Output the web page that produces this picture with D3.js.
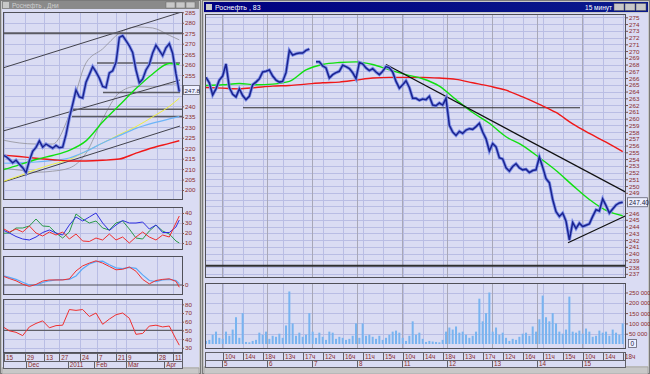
<!DOCTYPE html>
<html><head><meta charset="utf-8">
<script src="https://cdn.jsdelivr.net/npm/d3@7"></script>
<style>body{margin:0;background:#c0c0c0;}svg{display:block;font-family:"Liberation Sans",Arial,sans-serif;}</style>
</head><body><svg id="c" width="650" height="374"></svg>
<script>
// ---------- RIGHT WINDOW (15-minute) DATA ----------
const priceR = [266.1,265.3,263.5,264.4,265.7,266.3,268.1,264.6,263.6,263.2,264.4,263.4,262.8,263.3,265.0,265.4,265.9,266.9,267.0,267.2,
266.3,265.7,265.4,265.5,266.8,270.1,269.4,269.6,269.7,269.7,270.1,270.3,null,268.4,268.4,267.8,267.5,266.0,266.5,266.8,
267.0,267.9,267.7,267.4,266.8,265.9,268.3,268.1,267.5,267.1,267.4,266.9,266.5,267.0,267.7,267.5,266.9,265.5,264.5,265.0,
265.6,264.6,263.0,263.0,262.7,262.9,262.8,263.3,262.0,261.9,262.3,262.0,263.0,259.0,258.0,257.5,258.1,257.8,258.3,258.5,
258.4,258.8,259.3,258.0,257.0,255.2,256.3,255.8,254.2,254.0,252.7,252.2,252.9,253.3,252.7,252.4,252.5,252.0,252.3,252.4,
254.3,252.8,251.1,250.5,248.0,246.2,245.5,246.0,244.8,242.0,244.6,243.7,244.5,244.0,244.2,244.4,245.5,246.5,246.3,248.1,
247.1,246.0,246.6,247.2,247.5,247.6];
const volumeR = [15,20,45,60,30,25,60,40,70,130,30,150,10,8,15,20,55,45,60,25,40,35,50,30,90,255,100,40,55,35,45,150,60,30,55,35,20,60,55,25,
35,30,20,25,40,100,30,100,40,45,35,25,40,20,30,45,60,65,55,30,15,40,110,45,55,25,10,15,12,10,8,20,60,80,70,85,55,60,45,30,
40,60,220,110,150,250,60,80,45,55,30,15,25,20,35,50,55,40,85,60,120,235,130,110,150,100,60,50,70,230,60,55,65,50,75,60,35,40,65,55,
60,40,70,55,45,100];
const maIdxR = [0,5,10,15,20,25,30,35,40,45,50,55,60,65,70,75,80,85,90,95,100,105,110,115,120,125];
const maGreenR = [264.9,265.0,265.2,265.0,265.1,265.5,267.2,268.0,268.3,268.4,268.0,267.2,266.5,265.9,264.8,262.8,260.9,259.3,257.3,256.0,254.2,252.3,250.1,248.0,246.4,245.6];
const maRedR = [264.6,264.5,264.4,264.6,264.8,264.9,265.1,265.3,265.4,265.7,266.0,266.1,266.1,266.1,266.0,265.8,265.3,264.8,264.2,263.2,262.1,260.9,259.2,257.8,256.5,255.1];
const trendR = [{i0:54,v0:268.0,i1:125.9,v1:249.1},{i0:108.6,v0:241.6,i1:125.9,v1:245.6}];
const levelR = [{i0:11.1,i1:112.2,v:261.6,w:1.2},{i0:-0.3,i1:125.7,v:238.2,w:2}];
const priceTicksR = d3.range(237,276,1);
const volTicks = [0,50,100,150,200,250];
const hourLabels = ["10ч","14ч","18ч","13ч","17ч","12ч","16ч","11ч","15ч","10ч","14ч","18ч","13ч","17ч","12ч","16ч","11ч","15ч","10ч","14ч","18ч"];
const hourIdx = hourLabels.map((d,k)=>5.1+6*k);
const dayLabels = ["5","6","7","8","11","12","13","14","15"];
const dayIdx = dayLabels.map((d,k)=>4.8+13.5*k);

// ---------- LEFT WINDOW (daily) DATA ----------
const priceL = [216.7,216.0,214.6,213.0,214.2,212.3,210.7,208.3,214.0,218.5,220.4,223.5,220.5,222.0,221.0,220.0,221.3,220.2,220.5,226.5,
234.5,241.0,247.8,244.5,244.0,251.5,255.2,259.0,256.5,253.5,249.5,249.0,256.0,257.0,261.0,273.0,273.8,271.5,269.0,265.8,
257.4,251.3,253.0,257.4,260.0,265.5,269.2,266.8,264.3,268.0,270.0,265.4,255.5,247.0];
const maIdxL = [0,5,10,15,20,25,30,35,40,45,50,53];
const maGreenL = [209.6,212.0,214.6,216.5,219.0,223.5,232.5,240.5,248.5,255.5,260.5,260.0];
const maRedL = [216.7,216.0,215.2,214.5,213.9,213.9,214.2,214.8,217.6,220.2,222.3,223.6];
const maBlueL = [212.8,213.0,213.4,214.2,215.3,218.5,222.5,226.0,229.5,232.0,234.0,235.1];
const maYellowL = [204.0,206.8,209.8,212.3,214.6,218.5,222.5,226.5,230.3,235.0,240.0,243.9];
const bbUpperL = [223.9,222.5,222.0,222.0,236.0,260.8,267.5,275.0,278.0,277.5,274.0,271.8];
const bbLowerL = [210.5,209.5,208.5,209.0,210.5,217.6,234.0,246.5,249.5,249.4,250.5,251.0];
const trendL = [{j0:0.1,v0:258.4,j1:53.8,v1:285.2},{j0:0.1,v0:228.2,j1:53.2,v1:252.6},{j0:0.1,v0:203.8,j1:53.2,v1:230.6}];
const levelL = [{j0:0.1,j1:53.8,v:275,w:2},{j0:28.3,j1:53.2,v:260.8,w:1.5},{j0:30.1,j1:53.2,v:246.6,w:1.5},{j0:20.8,j1:53.8,v:238.6,w:1.5},{j0:20.8,j1:53.8,v:235.1,w:1.5}];
const priceTicksL = d3.range(200,286,5);
const indIdx = [0,2,4,6,8,10,12,14,16,18,20,22,24,26,28,30,32,34,36,38,40,42,44,46,48,50,52,53];
const dmiBlue = [23,20,16.5,14,13,16,20.5,23,20,18,28,36,32,36,40,30,22.5,28,32.5,30,30,31,24,28,20.5,20.5,26,33];
const dmiGreen = [19.7,20,25,25,27,34,27,26.5,20,15,21,39,34,30,32,25,23,30,32,24,15,14,22,28,22,19,12,10];
const dmiRed = [24.7,21,24,21,27,20,17,21,18,21,14,19,12,11.5,15,13,19,13,16,10,16,21,16,13,18,16,30,37];
const macdRed = [3.2,2.3,1.5,0.3,-0.5,0.2,1.4,1.8,1.8,1.8,2.2,5.0,6.8,7.8,8.6,7.8,6.6,5.4,5.6,6.4,4.9,2.0,0.4,1.6,2.0,2.2,1.3,-0.8];
const macdBlue = [3.4,2.7,2.0,1.0,0.0,-0.1,0.9,1.5,1.8,1.9,2.0,3.2,5.8,7.5,8.3,8.5,7.2,6.1,5.8,6.3,5.9,3.6,1.6,1.2,1.8,2.0,1.6,0.5];
const rsi = [54.3,49.5,47.8,44,54,58,61,53,55.5,56,74,73,74,66,70,57,63,68,70,64,45.5,46.5,55,56,54,55,40,33];
const dmiTicks = [10,20,30,40];
const rsiTicks = [30,40,50,60,70,80];
const dateLabelsL = ["15","29","13","27","24","7","21","9","28","11"];
const dateIdxL = [0.4,6.7,12.4,17,23.2,28.3,34,37,46.3,51.1];
const monthLabelsL = ["Dec","2011","Feb","Mar","Apr"];
const monthIdxL = [7,19.5,27.5,37,48.5];
const lastLabelR = "247.40", lastLabelL = "247.8";

// ---------- DRAWING ----------
const svg = d3.select("#c");
const BG = "#dadcf3", GRID = "#b9bde4", LBL = "#8a2a2a", BORDER = "#505058";
svg.append("rect").attr("width",650).attr("height",374).attr("fill","#c0c0c0");

function win(x,y,w,h){
  svg.append("rect").attr("x",x+0.5).attr("y",y+0.5).attr("width",w-1).attr("height",h-1).attr("fill","#c8c8c8").attr("stroke","#7a7a7a");
}
win(0,0,201,374); win(202,0,448,374);
svg.append("rect").attr("x",2).attr("y",9).attr("width",197).attr("height",358).attr("fill",BG);
svg.append("rect").attr("x",204).attr("y",13).attr("width",444).attr("height",353).attr("fill",BG);
svg.append("rect").attr("x",2).attr("y",1).attr("width",197).attr("height",8).attr("fill","#8a8a8a");
svg.append("text").attr("x",12).attr("y",7.5).attr("font-size",6.5).attr("fill","#cfcfcf").text("Роснефть , Дни");
svg.append("rect").attr("x",3).attr("y",2).attr("width",6).attr("height",6).attr("fill","#c8c8c8");
[166,176,186].forEach(x=>svg.append("rect").attr("x",x).attr("y",2).attr("width",9).attr("height",6).attr("fill","#c8c8c8").attr("stroke","#6a6a6a").attr("stroke-width",0.5));
const tg = svg.append("defs").append("linearGradient").attr("id","tb");
tg.append("stop").attr("offset","0").attr("stop-color","#000080");
tg.append("stop").attr("offset","1").attr("stop-color","#0a1a8c");
svg.append("rect").attr("x",204).attr("y",2).attr("width",444).attr("height",10).attr("fill","url(#tb)");
svg.append("rect").attr("x",206).attr("y",4).attr("width",6).attr("height",6).attr("fill","#c8c8c8");
svg.append("text").attr("x",215).attr("y",10).attr("font-size",7).attr("fill","#fff").text("Роснефть , 83");
svg.append("text").attr("x",612).attr("y",10).attr("font-size",6.5).attr("fill","#fff").attr("text-anchor","end").text("15 минут");
[614,625,636].forEach(x=>svg.append("rect").attr("x",x).attr("y",3.5).attr("width",10).attr("height",7).attr("fill","#c8c8c8").attr("stroke","#505050").attr("stroke-width",0.5));

svg.append("rect").attr("x",2).attr("y",368).attr("width",197).attr("height",6).attr("fill","#c8c8c8").attr("stroke","#8a8a8a").attr("stroke-width",0.5);
svg.append("rect").attr("x",204).attr("y",367).attr("width",444).attr("height",7).attr("fill","#c8c8c8").attr("stroke","#8a8a8a").attr("stroke-width",0.5);

const defs = svg.append("defs");
function clip(id,x,y,w,h){defs.append("clipPath").attr("id",id).append("rect").attr("x",x).attr("y",y).attr("width",w).attr("height",h);return "url(#"+id+")";}

function hGrid(g,vals,sc,x0,x1,col){g.selectAll(null).data(vals).join("line").attr("x1",x0).attr("x2",x1).attr("y1",d=>Math.round(sc(d))+0.5).attr("y2",d=>Math.round(sc(d))+0.5).attr("stroke",col||GRID).attr("stroke-width",1);}
function vGrid(g,vals,sc,y0,y1,col){g.selectAll(null).data(vals).join("line").attr("y1",y0).attr("y2",y1).attr("x1",d=>Math.round(sc(d))+0.5).attr("x2",d=>Math.round(sc(d))+0.5).attr("stroke",col||GRID).attr("stroke-width",1);}
function axisR(x,sc,vals,fmt,fs){
  const g = svg.append("g").attr("transform",`translate(${x},0)`).call(d3.axisRight(sc).tickValues(vals).tickSize(2).tickPadding(1).tickFormat(fmt));
  g.select(".domain").remove();
  g.selectAll("line").attr("stroke","#7a5050");
  g.selectAll("text").attr("font-size",fs||6.5).attr("fill",LBL).attr("font-family","Liberation Sans, Arial, sans-serif");
  return g;
}
function box(x0,y0,x1,y1){svg.append("rect").attr("x",x0+0.5).attr("y",y0+0.5).attr("width",x1-x0).attr("height",y1-y0).attr("fill","none").attr("stroke",BORDER).attr("stroke-width",1);}

// ===== RIGHT MAIN =====
const xR = d3.scaleLinear().domain([0,125]).range([206,622.7]);
const yR = d3.scaleLinear().domain([237,275]).range([273.8,17.3]);
const gR = svg.append("g");
hGrid(gR,priceTicksR,yR,205,625);
vGrid(gR,hourIdx,xR,14,277);
vGrid(gR,dayIdx,xR,14,277,"#a8a8b8");
const cR = clip("cr",205,14,420,263);
const gRc = svg.append("g").attr("clip-path",cR);
gRc.selectAll(null).data(levelR).join("line")
  .attr("x1",d=>xR(d.i0)).attr("x2",d=>xR(d.i1)).attr("y1",d=>yR(d.v)).attr("y2",d=>yR(d.v))
  .attr("stroke","#303030").attr("stroke-width",d=>d.w);
const maLineR = arr=>d3.line().curve(d3.curveMonotoneX).x((d,k)=>xR(maIdxR[k])).y(d=>yR(d))(arr);
gRc.append("path").attr("d",maLineR(maRedR)).attr("fill","none").attr("stroke","#f01818").attr("stroke-width",1.4);
gRc.append("path").attr("d",maLineR(maGreenR)).attr("fill","none").attr("stroke","#10e010").attr("stroke-width",1.4);
gRc.selectAll(null).data(trendR).join("line")
  .attr("x1",d=>xR(d.i0)).attr("x2",d=>xR(d.i1)).attr("y1",d=>yR(d.v0)).attr("y2",d=>yR(d.v1))
  .attr("stroke","#101010").attr("stroke-width",1.2);
const pLineR = d3.line().defined(d=>d!=null).x((d,i)=>xR(i)).y(d=>yR(d));
gRc.append("path").attr("d",pLineR(priceR)).attr("fill","none").attr("stroke","#7d8ee8").attr("stroke-width",3.2);
gRc.append("path").attr("d",pLineR(priceR)).attr("fill","none").attr("stroke","#1a238f").attr("stroke-width",1.5);
box(205,14,625,277);
const lastR = priceR[priceR.length-1];
axisR(626,yR,priceTicksR.filter(v=>Math.abs(yR(v)-yR(lastR))>=6),d3.format("d"),6.2);
svg.append("rect").attr("x",627.5).attr("y",yR(lastR)-4.5).attr("width",20).attr("height",9).attr("fill","#eef0ff").attr("stroke","#606070").attr("stroke-width",0.8);
svg.append("text").attr("x",629).attr("y",yR(lastR)+2.5).attr("font-size",6.5).attr("fill","#202040").text(lastLabelR);

// ===== RIGHT VOLUME =====
const yV = d3.scaleLinear().domain([0,250]).range([344,292.5]);
const gV = svg.append("g");
hGrid(gV,volTicks.slice(1),yV,205,625);
vGrid(gV,hourIdx,xR,283,348);
vGrid(gV,dayIdx,xR,283,348,"#a8a8b8");
gV.selectAll(null).data(volumeR).join("rect")
  .attr("x",(d,i)=>xR(i)-1).attr("width",2).attr("y",d=>yV(d)).attr("height",d=>yV(0)-yV(d)).attr("fill","#78b4f0");
box(205,283,625,348);
axisR(626,yV,volTicks.slice(1),d=>d+" 000",6);
svg.append("rect").attr("x",628.5).attr("y",339.5).attr("width",8).attr("height",8).attr("fill","#eef0ff").attr("stroke","#606070").attr("stroke-width",0.8);
svg.append("text").attr("x",630.5).attr("y",346).attr("font-size",6.5).attr("fill","#202040").text("0");

function dateRows(sc,r1,i1,r2,i2,x0,x1,ya,yb,yc){
  const g = svg.append("g");
  g.append("rect").attr("x",x0+0.5).attr("y",ya+0.5).attr("width",x1-x0).attr("height",yb-ya).attr("fill",BG).attr("stroke","#606068");
  g.append("rect").attr("x",x0+0.5).attr("y",yb+0.5).attr("width",x1-x0).attr("height",yc-yb).attr("fill",BG).attr("stroke","#606068");
  g.selectAll(null).data(i1).join("line").attr("x1",d=>Math.round(sc(d))+0.5).attr("x2",d=>Math.round(sc(d))+0.5).attr("y1",ya).attr("y2",yb).attr("stroke","#606068");
  g.selectAll(null).data(i2).join("line").attr("x1",d=>Math.round(sc(d))+0.5).attr("x2",d=>Math.round(sc(d))+0.5).attr("y1",yb).attr("y2",yc).attr("stroke","#606068");
  g.selectAll(null).data(r1).join("text").attr("x",(d,k)=>sc(i1[k])+2).attr("y",yb-1.5).attr("font-size",6.3).attr("fill",LBL).text(d=>d);
  g.selectAll(null).data(r2).join("text").attr("x",(d,k)=>sc(i2[k])+2).attr("y",yc-1.5).attr("font-size",6.3).attr("fill",LBL).text(d=>d);
}
dateRows(xR,hourLabels,hourIdx,dayLabels,dayIdx,205,625,352,360,367);

// ===== LEFT MAIN =====
const xL = d3.scaleLinear().domain([0,53]).range([2.7,179.3]);
const yL = d3.scaleLinear().domain([200,285]).range([190,12.3]);
const gL = svg.append("g");
hGrid(gL,priceTicksL,yL,3,182);
vGrid(gL,dateIdxL,xL,12,199);
const cL = clip("cl",3,12,179,187);
const gLc = svg.append("g").attr("clip-path",cL);
const maLineL = arr=>d3.line().curve(d3.curveMonotoneX).x((d,k)=>xL(maIdxL[k])).y(d=>yL(d))(arr);
gLc.append("path").attr("d",maLineL(bbUpperL)).attr("fill","none").attr("stroke","#909098").attr("stroke-width",0.8);
gLc.append("path").attr("d",maLineL(bbLowerL)).attr("fill","none").attr("stroke","#909098").attr("stroke-width",0.8);
gLc.selectAll(null).data(trendL).join("line")
  .attr("x1",d=>xL(d.j0)).attr("x2",d=>xL(d.j1)).attr("y1",d=>yL(d.v0)).attr("y2",d=>yL(d.v1))
  .attr("stroke","#303038").attr("stroke-width",0.9);
gLc.selectAll(null).data(levelL).join("line")
  .attr("x1",d=>xL(d.j0)).attr("x2",d=>xL(d.j1)).attr("y1",d=>yL(d.v)).attr("y2",d=>yL(d.v))
  .attr("stroke","#5a5a62").attr("stroke-width",d=>d.w);
gLc.append("path").attr("d",maLineL(maYellowL)).attr("fill","none").attr("stroke","#f0f040").attr("stroke-width",1);
gLc.append("path").attr("d",maLineL(maBlueL)).attr("fill","none").attr("stroke","#6cb4f8").attr("stroke-width",1.2);
gLc.append("path").attr("d",maLineL(maRedL)).attr("fill","none").attr("stroke","#f01818").attr("stroke-width",1.4);
gLc.append("path").attr("d",maLineL(maGreenL)).attr("fill","none").attr("stroke","#10e010").attr("stroke-width",1.4);
const pLineL = d3.line().x((d,i)=>xL(i)).y(d=>yL(d));
gLc.append("path").attr("d",pLineL(priceL)).attr("fill","none").attr("stroke","#7d8ee8").attr("stroke-width",3.2);
gLc.append("path").attr("d",pLineL(priceL)).attr("fill","none").attr("stroke","#1a238f").attr("stroke-width",1.4);
box(3,12,182,199);
const lastL = 247.8;
axisR(182,yL,priceTicksL.filter(v=>Math.abs(yL(v)-yL(lastL))>=7),d3.format("d"),6.2);
svg.append("rect").attr("x",183.5).attr("y",yL(lastL)-4.5).attr("width",16).attr("height",9).attr("fill","#eef0ff").attr("stroke","#606070").attr("stroke-width",0.8);
svg.append("text").attr("x",184.5).attr("y",yL(lastL)+2.5).attr("font-size",6.2).attr("fill","#202040").text(lastLabelL);

// ===== LEFT INDICATORS =====
const indLine = (sc)=>d3.line().x((d,k)=>xL(indIdx[k])).y(d=>sc(d));
const y1 = d3.scaleLinear().domain([10,40]).range([243,213]);
const g1 = svg.append("g");
hGrid(g1,dmiTicks,y1,3,182);
vGrid(g1,dateIdxL,xL,207,249);
const c1 = clip("c1",3,207,179,42);
const g1c = svg.append("g").attr("clip-path",c1);
[[dmiGreen,"#2a9a4a"],[dmiBlue,"#3030e0"],[dmiRed,"#f03030"]].forEach(([a,c])=>g1c.append("path").attr("d",indLine(y1)(a)).attr("fill","none").attr("stroke",c).attr("stroke-width",1));
box(3,207,182,249);
axisR(182,y1,dmiTicks,d3.format("d"),6.2);
const y2 = d3.scaleLinear().domain([0,10]).range([285,256.9]);
const g2 = svg.append("g");
vGrid(g2,dateIdxL,xL,256,294);
const c2 = clip("c2",3,256,179,38);
const g2c = svg.append("g").attr("clip-path",c2);
g2c.append("line").attr("x1",3).attr("x2",182).attr("y1",y2(0)).attr("y2",y2(0)).attr("stroke","#505058").attr("stroke-width",1.2);
g2c.append("path").attr("d",indLine(y2)(macdBlue)).attr("fill","none").attr("stroke","#58a8f8").attr("stroke-width",1.2);
g2c.append("path").attr("d",indLine(y2)(macdRed)).attr("fill","none").attr("stroke","#f03030").attr("stroke-width",1);
box(3,256,182,294);
axisR(182,y2,[0],d3.format("d"),6.2);
const y3 = d3.scaleLinear().domain([30,80]).range([347.8,304.3]);
const g3 = svg.append("g");
hGrid(g3,rsiTicks,y3,3,182);
vGrid(g3,dateIdxL,xL,299,352);
const c3 = clip("c3",3,299,179,53);
const g3c = svg.append("g").attr("clip-path",c3);
g3c.append("line").attr("x1",3).attr("x2",182).attr("y1",y3(50)).attr("y2",y3(50)).attr("stroke","#606068").attr("stroke-width",1.2);
g3c.append("path").attr("d",indLine(y3)(rsi)).attr("fill","none").attr("stroke","#f03030").attr("stroke-width",1);
box(3,299,182,352);
axisR(182,y3,rsiTicks,d3.format("d"),6.2);
dateRows(xL,dateLabelsL,dateIdxL,monthLabelsL,monthIdxL,3,182,353,361,368);
</script></body></html>
